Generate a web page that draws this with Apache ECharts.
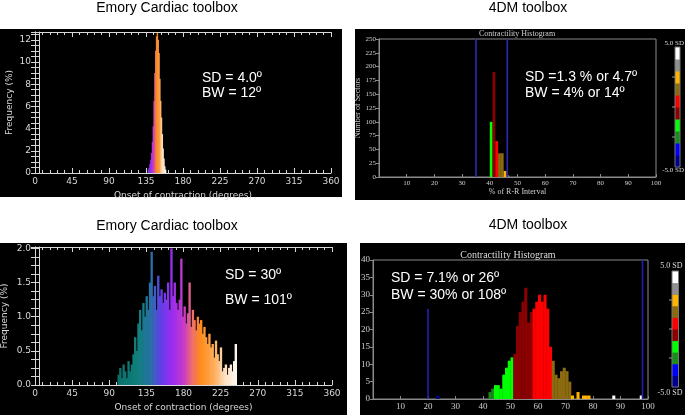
<!DOCTYPE html>
<html><head><meta charset="utf-8">
<script src="https://cdn.jsdelivr.net/npm/echarts@6/dist/echarts.min.js"></script>
<style>html,body{margin:0;padding:0;background:#fff}#c{width:685px;height:415px}</style>
</head><body><div id="c"></div>
<script>
// ---------------- DATA ----------------
// Top-left: Emory, narrow distribution (1-degree bins, bin start in degrees)
const tlBinStart = [137,138,139,140,141,142,143,144,145,146,147,148,149,150,151,152,153,154,155,156,157,158];
const tlFreq     = [0.3,0.5,0.8,1.2,1.8,2.8,4.2,6.5,9.0,11.0,12.3,12.6,12.0,10.8,8.5,6.5,5.0,3.5,2.2,1.3,0.6,0.3];
const tlBinWidth = 1;

// Bottom-left: Emory, wide distribution (2-degree bins)
const blBinStart = [100,102,104,106,108,110,112,114,116,118,
                    120,122,124,126,128,130,132,134,136,138,
                    140,142,144,146,148,150,152,154,156,158,
                    160,162,164,166,168,170,172,174,176,178,
                    180,182,184,186,188,190,192,194,196,198,
                    200,202,204,206,208,210,212,214,216,218,
                    220,222,224,226,228,230,232,234,236,238,
                    240,242];
const blFreq = [0.15,0.25,0.1,0.3,0.2,0.1,0.35,0.2,0.3,0.45,
                0.7,0.5,0.9,1.1,0.8,1.2,1.0,1.3,1.1,1.5,
                1.95,1.3,1.45,1.1,1.6,1.3,1.4,1.2,1.35,1.25,
                1.5,1.1,2.0,1.3,1.5,1.2,1.1,1.25,1.85,1.0,
                1.15,0.9,1.05,1.5,0.85,1.1,0.95,0.8,1.0,0.9,
                0.95,0.75,0.85,0.7,0.6,0.75,0.55,0.6,0.4,0.65,
                0.45,0.35,0.55,0.2,0.25,0.3,0.15,0.25,0.3,0.2,
                0.35,0.6];
const blBinWidth = 2;

// Top-right: 4DM, narrow (1 % bins)
const trBinStart = [40,41,42,43,44,45,46];
const trCount    = [100,190,65,43,43,11,3];
const trMean = 42, trSD = 1.3;
const trMarkX   = [35, 46.3];
const trMarkTop = [250, 250];

// Bottom-right: 4DM, wide (1 % bins)
const brBinStart = [23,42,43,44,45,46,47,48,49,50,51,52,53,54,55,56,57,58,59,60,61,62,63,64,65,66,67,68,69,70,71,72,74,76,77,78,87,97];
const brCount    = [1,2,3,4,4,3,7,9,11,12,13,21,25,28,32,22,25,26,28,30,28,30,26,15,11,7,6,8,9,8,5,1,2,1,1,1,1,1];
const brMean = 58, brSD = 7;
const brMarkX   = [20, 98];
const brMarkTop = [26, 40];

// Text
const tlStats = ['SD = 4.0º', 'BW = 12º'];
const trStats = ['SD =1.3 % or 4.7º', 'BW = 4% or 14º'];
const blStats = ['SD = 30º', 'BW = 101º'];
const brStats = ['SD = 7.1% or 26º', 'BW = 30% or 108º'];

// ---------------- STYLE HELPERS ----------------
const emoryStops = [
  [0.00,'#0b6f6a'],[0.18,'#11807e'],[0.28,'#2a70a8'],[0.36,'#6040e8'],[0.46,'#9a2cf0'],
  [0.56,'#c83cc8'],[0.63,'#f0706a'],[0.70,'#ff8c1a'],[0.82,'#ffb060'],[0.90,'#ffe0c0'],[1.00,'#fff8f0']];
function hex2rgb(h){return [parseInt(h.substr(1,2),16),parseInt(h.substr(3,2),16),parseInt(h.substr(5,2),16)];}
function emoryColor(t){
  t = Math.max(0, Math.min(1, t));
  for (let i=1;i<emoryStops.length;i++){
    if (t <= emoryStops[i][0]) {
      const a = emoryStops[i-1], b = emoryStops[i];
      const f = (t - a[0])/(b[0]-a[0]);
      const ca = hex2rgb(a[1]), cb = hex2rgb(b[1]);
      return 'rgb(' + ca.map((v,k)=>Math.round(v+(cb[k]-v)*f)).join(',') + ')';
    }
  }
  return emoryStops[emoryStops.length-1][1];
}
const bandColors = ['#000090','#0000ff','#1a8c1a','#00ff00','#8b0000','#ff0000','#8b6a10','#ffb400','#909090','#ffffff'];
function sdColor(center, mean, sd){
  let k = Math.floor((center-mean)/sd) + 5;
  k = Math.max(0, Math.min(9, k));
  return bandColors[k];
}
function histRender(width, colorFn, overlap){
  return function(params, api){
    const x = api.value(0), y = api.value(1);
    const p0 = api.coord([x, 0]), p1 = api.coord([x + width, y]);
    return {type:'rect', shape:{x:p0[0], y:p1[1], width:p1[0]-p0[0]+(overlap||0), height:p0[1]-p1[1]},
            style:{fill: colorFn(x + width/2)}};
  };
}
function lineRender(color, w){
  return function(params, api){
    const x = api.value(0), y = api.value(1);
    const p0 = api.coord([x, 0]), p1 = api.coord([x, y]);
    return {type:'line', shape:{x1:p0[0], y1:p0[1], x2:p1[0], y2:p1[1]},
            style:{stroke: color, lineWidth: w}};
  };
}
const zip = (a,b)=>a.map((v,i)=>[v,b[i]]);

// Emory axis style
const eCol = '#d8d8d8';
const eFont = {color:eCol, fontSize:9, fontFamily:'DejaVu Sans'};
function emoryX(grid, top, show){
  return {type:'value', gridIndex:grid, position: top?'top':'bottom', min:0, max:360, interval:45,
    axisLine:{show:true, onZero:false, lineStyle:{color:eCol}},
    axisTick:{show:true, inside:true, length:5, lineStyle:{color:eCol}},
    minorTick:{show:true, splitNumber:5, length:3, lineStyle:{color:eCol}},
    splitLine:{show:false},
    axisLabel:{show:show, margin:4, ...eFont},
    name: show ? 'Onset of contraction (degrees)' : '', nameLocation:'middle', nameGap:18,
    nameTextStyle:{color:eCol, fontSize:9, fontFamily:'DejaVu Sans'}};
}
function emoryY(grid, max, interval, pos, show, offset, lineOnly, gap, dec){
  return {type:'value', gridIndex:grid, position:pos, offset:offset||0, min:0, max:max, interval:interval,
    axisLine:{show:true, lineStyle:{color:eCol}},
    axisTick:{show:!lineOnly, inside:true, length:4, lineStyle:{color:eCol}},
    minorTick:{show:!lineOnly, splitNumber:4, length:4, lineStyle:{color:eCol}},
    splitLine:{show:false},
    axisLabel:{show:show, margin:4, showMaxLabel:false, ...eFont,
      formatter: v => dec ? v.toFixed(1) : String(v)},
    name: show ? 'Frequency (%)' : '', nameLocation:'middle', nameGap:gap||20,
    nameTextStyle:{color:eCol, fontSize:9, fontFamily:'DejaVu Sans'}};
}
// 4DM axis style
const dCol = '#8a8a8a';
function dmX(grid, fs, name, gap){
  return {type:'value', gridIndex:grid, min:0, max:100, interval:10,
    axisLine:{show:true, onZero:false, lineStyle:{color:dCol}},
    axisTick:{show:true, inside:true, length:3, lineStyle:{color:dCol}},
    splitLine:{show:false},
    axisLabel:{showMinLabel:false, margin:3, color:'#cfcfcf', fontSize:fs, fontFamily:'Liberation Serif'},
    name:name, nameLocation:'middle', nameGap:gap,
    nameTextStyle:{color:'#cfcfcf', fontSize:fs+1, fontFamily:'Liberation Serif'}};
}
function dmY(grid, max, interval, fs, name, gap){
  return {type:'value', gridIndex:grid, min:0, max:max, interval:interval,
    axisLine:{show:true, lineStyle:{color:dCol}},
    axisTick:{show:true, inside:false, length:3, lineStyle:{color:dCol}},
    splitLine:{show:false},
    axisLabel:{margin:3, color:'#cfcfcf', fontSize:fs, fontFamily:'Liberation Serif'},
    name:name, nameLocation:'middle', nameGap:gap,
    nameTextStyle:{color:'#cfcfcf', fontSize:fs+1, fontFamily:'Liberation Serif'}};
}

// Colorbar graphic
function colorbar(x, y, w, h, fs, topLab, botLab){
  const els = [];
  const seg = h/bandColors.length;
  for (let i=0;i<bandColors.length;i++){
    els.push({type:'rect', shape:{x:x, y:y + h - (i+1)*seg, width:w, height:seg+0.5}, style:{fill:bandColors[i]}, z:50});
  }
  els.push({type:'rect', shape:{x:x, y:y, width:w, height:h}, style:{fill:null, stroke:'#777', lineWidth:1}, z:51});
  [0.25,0.5,0.75].forEach(f=>{
    els.push({type:'line', shape:{x1:x-3, y1:y+h*f, x2:x, y2:y+h*f}, style:{stroke:'#999', lineWidth:1}, z:51});
  });
  els.push({type:'text', x:x+w+4, y:topLab, style:{text:'5.0 SD', fill:'#ddd', font:fs+'px "Liberation Serif"', textAlign:'right', textVerticalAlign:'middle'}, z:52});
  els.push({type:'text', x:x+w+4, y:botLab, style:{text:'-5.0 SD', fill:'#ddd', font:fs+'px "Liberation Serif"', textAlign:'right', textVerticalAlign:'middle'}, z:52});
  return els;
}
function txt(x, y, s, font, fill, align){
  return {type:'text', x:x, y:y, z:60, style:{text:s, fill:fill, font:font, textAlign:align||'left', textVerticalAlign:'middle'}};
}
const statFont = '14px "Liberation Sans", Arial, sans-serif';
const titleFont = '14px "Liberation Sans", Arial, sans-serif';

const graphics = [
  {type:'rect', shape:{x:0, y:29, width:342, height:168}, style:{fill:'#000'}, z:-10},
  {type:'rect', shape:{x:355, y:29, width:330, height:171}, style:{fill:'#000'}, z:-10},
  {type:'rect', shape:{x:0, y:243, width:347, height:172}, style:{fill:'#000'}, z:-10},
  {type:'rect', shape:{x:360, y:243, width:325, height:172}, style:{fill:'#000'}, z:-10},
  txt(167, 8, 'Emory Cardiac toolbox', titleFont, '#000', 'center'),
  txt(528, 8, '4DM toolbox', titleFont, '#000', 'center'),
  txt(167, 226, 'Emory Cardiac toolbox', titleFont, '#000', 'center'),
  txt(528, 225, '4DM toolbox', titleFont, '#000', 'center'),
  txt(517, 34, 'Contractility Histogram', '8px "Liberation Serif"', '#cfcfcf', 'center'),
  txt(508, 255, 'Contractility Histogram', '10px "Liberation Serif"', '#dcdcdc', 'center'),
  txt(202, 78, tlStats[0], statFont, '#fff'),
  txt(202, 93, tlStats[1], statFont, '#fff'),
  txt(525, 77, trStats[0], statFont, '#fff'),
  txt(525, 93, trStats[1], statFont, '#fff'),
  txt(225, 275, blStats[0], statFont, '#fff'),
  txt(225, 300, blStats[1], statFont, '#fff'),
  txt(391, 278, brStats[0], statFont, '#fff'),
  txt(391, 295, brStats[1], statFont, '#fff'),
  ...colorbar(675, 47, 5, 120, 7, 43, 170),
  ...colorbar(672, 271, 6.5, 116, 8, 266, 393)
];

const chart = echarts.init(document.getElementById('c'), null, {renderer:'canvas'});
const gridBase = {show:true, borderColor:'transparent', backgroundColor:'transparent', containLabel:false, outerBoundsMode:'none'};
chart.setOption({
  animation:false,
  backgroundColor:'#fff',
  grid:[
    {...gridBase, left:35, top:32, width:296, height:141},
    {...gridBase, left:379, top:39, width:277, height:138, borderColor:dCol},
    {...gridBase, left:35, top:247, width:297, height:138},
    {...gridBase, left:373, top:260, width:275, height:139, borderColor:dCol}
  ],
  xAxis:[
    emoryX(0,false,true), emoryX(0,true,false),
    dmX(1, 7, '% of R-R Interval', 10),
    emoryX(2,false,true), emoryX(2,true,false),
    dmX(3, 9, '', 0)
  ],
  yAxis:[
    emoryY(0, 12.7, 2, 'left', true, 0, false, 21),
    emoryY(0, 12.7, 2, 'right', false, 0, false),
    emoryY(0, 12.7, 2, 'left', false, -4, true),
    dmY(1, 250, 25, 7, 'Number of Sectors', 15),
    emoryY(2, 2.02, 0.5, 'left', true, 0, false, 26, true),
    emoryY(2, 2.02, 0.5, 'right', false, 0, false),
    emoryY(2, 2.02, 0.5, 'left', false, -4, true),
    dmY(3, 40, 5, 9, '', 0)
  ],
  graphic: graphics,
  series:[
    {type:'custom', xAxisIndex:0, yAxisIndex:0, data: zip(tlBinStart, tlFreq), encode:{x:0,y:1},
     renderItem: histRender(tlBinWidth, c => emoryColor((c-126)/(158-126)), 0.6)},
    {type:'custom', xAxisIndex:2, yAxisIndex:3, data: zip(trBinStart, trCount), encode:{x:0,y:1},
     renderItem: histRender(1, c => sdColor(c, trMean, trSD), 0)},
    {type:'custom', xAxisIndex:2, yAxisIndex:3, data: zip(trMarkX, trMarkTop), encode:{x:0,y:1},
     renderItem: lineRender('#2a2ab8', 1.6)},
    {type:'custom', xAxisIndex:3, yAxisIndex:4, data: zip(blBinStart, blFreq), encode:{x:0,y:1},
     renderItem: histRender(blBinWidth, c => emoryColor((c-100)/(244-100)), 0.7)},
    {type:'custom', xAxisIndex:5, yAxisIndex:7, data: zip(brBinStart, brCount), encode:{x:0,y:1},
     renderItem: histRender(1, c => sdColor(c, brMean, brSD), 0.3)},
    {type:'custom', xAxisIndex:5, yAxisIndex:7, data: zip(brMarkX, brMarkTop), encode:{x:0,y:1},
     renderItem: lineRender('#2020b0', 1.6)}
  ]
});
</script></body></html>
